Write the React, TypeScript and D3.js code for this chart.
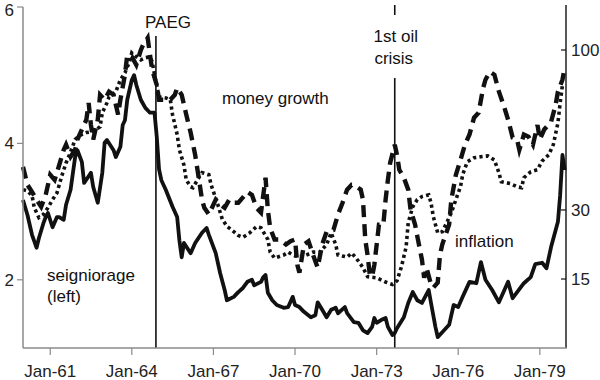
import React from "react";
import * as d3 from "d3";

// months since Jan 1960
const seigMonths = [0,2,4,6,7,9,10,11,13,15,16,18,19,21,23,24,26,27,30,31,33,35,36,37,40,41,43,44,45,46,48,49,50,52,54,56,58,59,60,61,63,66,68,69,70,71,74,76,79,81,82,85,87,89,90,93,95,97,99,101,102,105,106,107,108,110,112,115,117,119,120,122,124,127,129,130,132,134,136,138,139,142,143,146,148,150,152,154,155,156,158,160,161,163,164,165,168,170,172,174,176,179,180,182,183,185,188,190,192,194,197,200,202,204,207,210,214,216,221,224,226,229,231,233,236,237,238,239];
const seigValues = [3.17,2.95,2.66,2.47,2.61,2.83,2.92,2.98,2.77,2.92,2.92,2.88,3.10,3.32,3.80,3.90,3.73,3.42,3.57,3.36,3.13,3.57,4.01,4.05,3.90,3.80,3.95,4.27,4.34,4.64,4.93,5.00,4.86,4.64,4.52,4.45,4.45,4.10,3.62,3.46,3.32,3.07,2.92,2.58,2.33,2.54,2.39,2.54,2.69,2.76,2.66,2.39,2.10,1.85,1.70,1.75,1.82,1.88,1.97,2.00,1.92,1.97,2.04,2.07,1.81,1.70,1.63,1.59,1.60,1.75,1.63,1.60,1.53,1.45,1.48,1.67,1.56,1.45,1.56,1.59,1.51,1.60,1.51,1.38,1.37,1.26,1.22,1.31,1.44,1.37,1.41,1.44,1.31,1.19,1.22,1.29,1.45,1.66,1.82,1.70,1.66,1.85,1.66,1.31,1.16,1.23,1.34,1.63,1.60,1.75,1.97,1.95,2.26,2.00,1.85,1.67,1.97,1.73,1.95,2.04,2.23,2.25,2.17,2.48,2.85,3.24,3.83,3.61];

const moneyMonths = [0,2,4,6,8,10,12,14,15,18,19,21,23,24,26,28,29,30,31,33,34,36,38,40,42,43,45,46,48,50,52,53,55,56,57,59,60,62,65,67,68,70,72,74,76,77,79,80,82,85,87,89,91,93,95,98,99,101,103,105,107,108,109,111,113,116,118,120,121,122,124,126,128,130,132,134,137,139,141,143,145,146,149,150,151,152,153,154,155,157,159,160,161,162,164,165,166,168,170,171,173,174,176,177,178,180,181,183,184,185,188,189,191,193,195,197,199,201,203,204,206,208,210,212,214,216,218,219,221,223,225,227,228,230,233,235,236,238,239];
const moneyValues = [43.4,37.4,35.2,32.9,30.9,34.3,40.7,39.0,41.4,49.7,51.7,47.1,49.7,53.8,58.0,62.4,70.3,60.0,53.8,62.4,74.4,71.9,76.0,74.4,64.7,71.9,85.2,97.0,95.8,90.9,100,103.3,107.9,97.0,88.0,79.6,71.9,71.9,71.9,74.4,78.0,74.4,64.7,56.7,47.8,42.4,32.9,30.6,28.8,32.9,31.5,30.6,32.9,32.0,32.0,34.3,35.2,34.3,30.6,29.3,39.7,30.0,25.4,22.7,22.7,21.6,22.3,22.7,17.5,16.1,21.6,22.3,19.4,17.0,21.6,24.5,24.9,28.8,32.0,35.9,37.4,37.4,35.9,32.9,22.7,19.4,15.7,15.4,17.5,26.2,26.2,32.9,39.0,44.8,51.7,47.8,42.4,39.7,35.9,30.1,26.2,23.4,18.5,15.2,17.0,14.1,13.6,14.4,19.4,21.6,26.2,32.9,40.7,45.9,51.7,55.9,63.3,65.6,78.0,82.4,86.9,85.2,76.0,69.3,62.4,54.6,53.8,49.7,55.9,55.0,51.7,60.0,53.8,58.0,61.4,69.3,76.0,82.4,89.2];

const inflMonths = [0,2,4,5,7,9,11,13,15,17,19,21,23,25,28,31,34,35,37,38,41,43,45,47,48,50,52,54,56,57,58,59,60,63,65,66,68,69,71,72,74,75,77,79,82,83,86,88,90,93,95,97,100,103,105,108,109,111,115,117,119,122,125,128,131,134,136,138,139,143,145,147,150,152,156,160,163,165,167,169,170,172,174,176,179,180,181,183,185,187,189,191,193,194,196,199,202,205,208,210,211,215,218,220,221,224,227,229,232,234,236,237,238];
const inflValues = [35.9,35.5,34.1,30.6,28.0,28.8,30.6,32.9,34.9,40.0,44.8,48.9,53.8,55.5,56.7,57.1,59.2,65.6,70.3,73.3,76.0,82.4,86.3,92.7,98.2,95.8,93.9,95.2,95.8,92.7,85.2,79.6,73.3,72.8,71.9,64.7,55.9,49.7,44.1,39.0,36.8,36.5,39.0,41.4,40.7,37.4,31.5,27.5,25.8,24.5,23.6,23.2,24.2,25.7,25.4,22.7,20.0,18.8,19.4,20.0,19.4,19.0,19.4,20.0,20.0,21.6,24.2,21.6,19.4,19.0,19.8,18.8,17.0,15.4,15.2,14.5,14.1,14.7,17.2,21.1,26.7,30.9,32.9,33.8,34.3,32.0,28.2,24.2,24.5,26.7,29.3,32.9,36.8,40.7,45.2,46.7,47.1,47.4,45.9,41.4,38.4,37.8,36.8,36.5,39.7,41.7,42.4,45.5,47.8,51.7,60.9,70.3,79.6];

const xTickYears = [1961, 1964, 1967, 1970, 1973, 1976, 1979];
const leftTicks = [2, 4, 6];
const rightTicks = [15, 30, 100];

const W = 600, H = 380;
const X0 = 23, X1 = 567, YB = 348, YT = 7, YTR = 5;

const monthDate = (m: number) => new Date(1960, m, 1);

export default function App() {
  const x = d3.scaleTime().domain([new Date(1960, 0, 1), new Date(1980, 0, 1)]).range([X0, X1]);
  const yL = d3.scaleLinear().domain([1, 6]).range([YB, YT]);
  const yR = d3.scalePow().exponent(0.3).domain([15, 100]).range([279, 50]);

  const mk = (months: number[], vals: number[], y: (v: number) => number) =>
    d3.line<number>().x((_, i) => x(monthDate(months[i]))).y((v) => y(v)).curve(d3.curveLinear)(vals) || "";

  const seigPath = mk(seigMonths, seigValues, yL);
  const moneyPath = mk(moneyMonths, moneyValues, yR);
  const inflPath = mk(inflMonths, inflValues, yR);

  const paegX = x(new Date(1964, 10, 20));
  const oilX = x(new Date(1973, 8, 1));
  const font = "'Liberation Sans', Arial, Helvetica, sans-serif";
  const axisGray = "#8a8a8a";

  return (
    <svg width={W} height={H} style={{ position: "absolute", left: 0, top: 0, background: "#fff" }} fontFamily={font}>
      <rect x={0} y={0} width={W} height={H} fill="#fff" />
      {/* event lines */}
      <line x1={paegX} x2={paegX} y1={36} y2={YB} stroke="#111" strokeWidth={1.6} />
      <line x1={oilX} x2={oilX} y1={5} y2={15} stroke="#111" strokeWidth={1.6} />
      <line x1={oilX} x2={oilX} y1={78} y2={YB} stroke="#111" strokeWidth={1.6} />

      {/* series */}
      <path d={inflPath} fill="none" stroke="#111" strokeWidth={3.6} strokeDasharray="3.2,3.2" />
      <path d={moneyPath} fill="none" stroke="#111" strokeWidth={4.4} strokeDasharray="12,7" />
      <path d={seigPath} fill="none" stroke="#111" strokeWidth={3.8} strokeLinejoin="round" />

      {/* left axis */}
      <line x1={X0} x2={X0} y1={YT} y2={YB} stroke={axisGray} strokeWidth={1.5} />
      {leftTicks.map((t) => (
        <g key={"l" + t}>
          <line x1={X0 - 6} x2={X0} y1={yL(t)} y2={yL(t)} stroke={axisGray} strokeWidth={1.2} />
          <text x={X0 - 9} y={Math.max(yL(t), 10)} dy="0.35em" textAnchor="end" fontSize={17} fill="#222">{t}</text>
        </g>
      ))}

      {/* right axis */}
      <line x1={X1 - 1} x2={X1 - 1} y1={YTR} y2={YB} stroke="#111" strokeWidth={1.4} />
      {rightTicks.map((t) => (
        <g key={"r" + t}>
          <line x1={X1 - 6} x2={X1 - 1} y1={yR(t)} y2={yR(t)} stroke="#111" strokeWidth={1.2} />
          <text x={X1 + 4} y={yR(t)} dy="0.35em" textAnchor="start" fontSize={17} fill="#222">{t}</text>
        </g>
      ))}

      {/* bottom axis */}
      <line x1={X0} x2={X1} y1={YB} y2={YB} stroke={axisGray} strokeWidth={1.5} />
      {xTickYears.map((yr) => {
        const d = new Date(yr, 0, 1);
        const px = x(d);
        return (
          <g key={"x" + yr}>
            <line x1={px} x2={px} y1={YB} y2={YB + 7} stroke={axisGray} strokeWidth={1.2} />
            <text x={px} y={377} textAnchor="middle" fontSize={17} fill="#222">{d3.timeFormat("%b-%y")(d)}</text>
          </g>
        );
      })}

      {/* annotations */}
      <text x={145} y={28} fontSize={17} fill="#111">PAEG</text>
      <text x={oilX + 1} y={42} fontSize={17} fill="#111" textAnchor="middle">1st oil</text>
      <text x={oilX - 1} y={64} fontSize={17} fill="#111" textAnchor="middle">crisis</text>
      <text x={222} y={104} fontSize={17} fill="#111">money growth</text>
      <text x={455} y={247} fontSize={17} fill="#111">inflation</text>
      <text x={47} y={281} fontSize={17} fill="#111">seigniorage</text>
      <text x={47} y={302} fontSize={17} fill="#111">(left)</text>
    </svg>
  );
}
